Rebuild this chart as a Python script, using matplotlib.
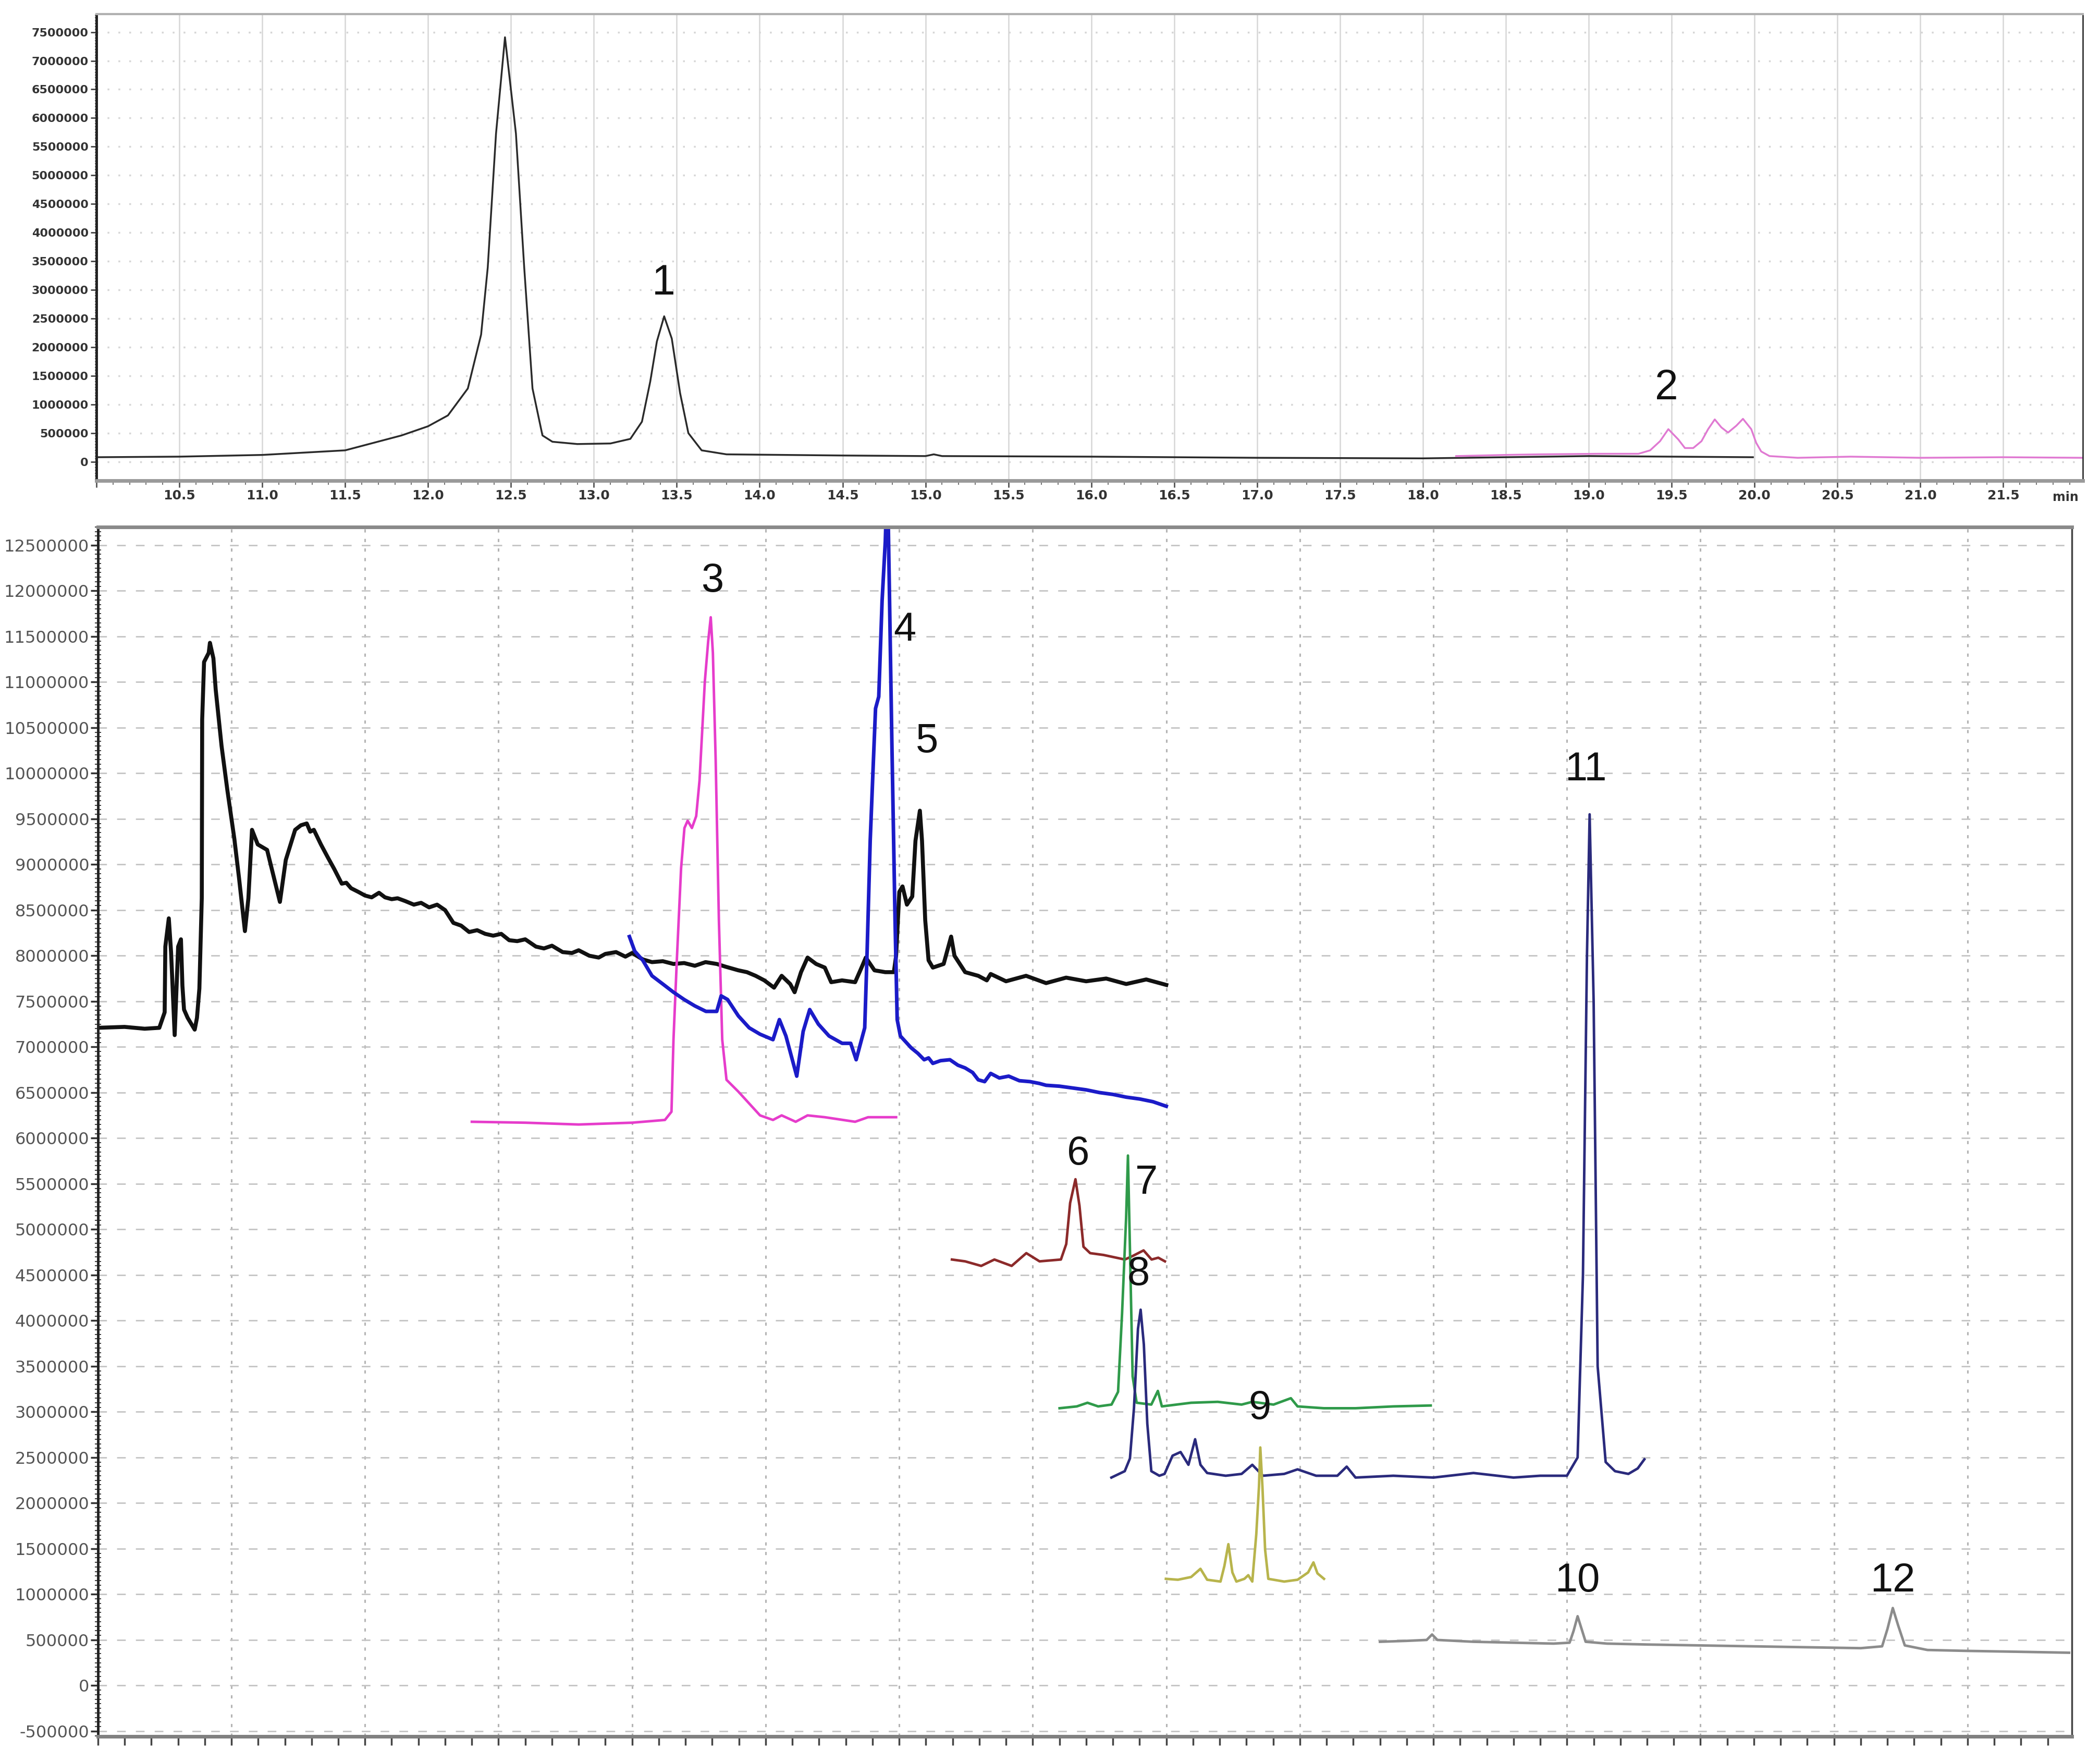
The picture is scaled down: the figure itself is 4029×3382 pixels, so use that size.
import matplotlib
matplotlib.use("Agg")
import matplotlib.pyplot as plt
from matplotlib.ticker import MultipleLocator, FuncFormatter, NullFormatter

plt.rcParams['axes.unicode_minus'] = False

# ---- top chromatogram (time in min, intensity in millions of counts) ----
top_black_t = [10.0, 10.5, 11.0, 11.5, 11.84, 12.0, 12.12, 12.24, 12.32, 12.36, 12.41, 12.464,
               12.53, 12.58, 12.63, 12.69, 12.75, 12.9, 13.1, 13.22, 13.29, 13.34, 13.38, 13.424,
               13.47, 13.52, 13.57, 13.65, 13.8, 14.5, 15.0, 15.05, 15.1, 16.0, 17.0, 18.0, 18.5,
               19.0, 19.5, 19.99]
top_black_i = [0.08, 0.09, 0.12, 0.20, 0.46, 0.62, 0.81, 1.28, 2.22, 3.39, 5.73, 7.41,
               5.73, 3.39, 1.28, 0.46, 0.35, 0.31, 0.32, 0.40, 0.70, 1.40, 2.10, 2.54,
               2.15, 1.20, 0.50, 0.20, 0.13, 0.11, 0.10, 0.13, 0.10, 0.09, 0.07, 0.06, 0.08,
               0.10, 0.09, 0.08]

top_pink_t = [18.2, 18.5, 18.7, 19.06, 19.3, 19.37, 19.43, 19.48, 19.54, 19.58, 19.63, 19.68,
              19.72, 19.76, 19.8, 19.84, 19.89, 19.93, 19.98, 20.01, 20.04, 20.09, 20.26, 20.58,
              21.0, 21.5, 21.98]
top_pink_i = [0.10, 0.12, 0.13, 0.14, 0.14, 0.20, 0.36, 0.57, 0.39, 0.24, 0.24, 0.36,
              0.57, 0.74, 0.60, 0.51, 0.63, 0.75, 0.57, 0.33, 0.18, 0.10, 0.07, 0.09,
              0.07, 0.08, 0.07]

top_peak_ids = ["1", "2"]
top_peak_t = [13.42, 19.47]
top_peak_i = [3.11, 1.28]

# ---- bottom chromatograms (time in grid units, intensity in millions) ----
black_t = [0.0, 0.2, 0.35, 0.46, 0.5, 0.505, 0.531, 0.548, 0.575, 0.601, 0.622, 0.633, 0.645,
           0.672, 0.725, 0.742, 0.76, 0.778, 0.781, 0.795, 0.83, 0.839, 0.865, 0.882, 0.926,
           0.97, 1.022, 1.057, 1.101, 1.127, 1.154, 1.197, 1.267, 1.363, 1.407, 1.477, 1.52,
           1.564, 1.59, 1.617, 1.67, 1.721, 1.77, 1.826, 1.86, 1.896, 1.95, 2.0, 2.05, 2.105,
           2.15, 2.2, 2.244, 2.3, 2.366, 2.42, 2.48, 2.54, 2.6, 2.662, 2.72, 2.78, 2.84, 2.9,
           2.96, 3.02, 3.08, 3.14, 3.2, 3.28, 3.34, 3.4, 3.48, 3.55, 3.6, 3.68, 3.75, 3.8,
           3.88, 3.95, 4.0, 4.08, 4.149, 4.23, 4.31, 4.39, 4.47, 4.55, 4.634, 4.7, 4.796,
           4.86, 4.925, 4.99, 5.063, 5.12, 5.184, 5.217, 5.265, 5.314, 5.378, 5.443, 5.491,
           5.572, 5.67, 5.718, 5.75, 5.815, 5.896, 5.96, 5.977, 6.001, 6.025, 6.058, 6.098,
           6.122, 6.155, 6.171, 6.195, 6.22, 6.252, 6.333, 6.389, 6.414, 6.494, 6.592, 6.656,
           6.685, 6.8, 6.95, 7.1, 7.25, 7.4, 7.55, 7.7, 7.85, 8.0]
black_i = [7.21, 7.22, 7.20, 7.21, 7.38, 8.10, 8.41, 8.04, 7.13, 8.10, 8.18, 7.67, 7.41,
           7.32, 7.19, 7.32, 7.64, 8.63, 10.59, 11.22, 11.32, 11.43, 11.26, 10.92, 10.30,
           9.81, 9.28, 8.85, 8.27, 8.63, 9.38, 9.22, 9.16, 8.59, 9.05, 9.38, 9.43,
           9.45, 9.36, 9.38, 9.22, 9.08, 8.95, 8.79, 8.80, 8.74, 8.70, 8.66, 8.64, 8.69,
           8.64, 8.62, 8.63, 8.60, 8.56, 8.58, 8.53, 8.56, 8.50, 8.36, 8.33, 8.26, 8.28, 8.24,
           8.22, 8.24, 8.17, 8.16, 8.18, 8.10, 8.08, 8.11, 8.04, 8.03, 8.06, 8.00, 7.98, 8.02,
           8.04, 7.99, 8.03, 7.96, 7.93, 7.94, 7.91, 7.92, 7.89, 7.93, 7.91, 7.88, 7.84,
           7.82, 7.78, 7.73, 7.65, 7.78, 7.69, 7.60, 7.82, 7.98, 7.91, 7.87, 7.71,
           7.73, 7.71, 7.87, 7.98, 7.84, 7.82, 7.82, 8.00, 8.70, 8.76, 8.56, 8.65,
           9.26, 9.59, 9.26, 8.39, 7.95, 7.87, 7.91, 8.21, 8.00, 7.82, 7.78, 7.73,
           7.80, 7.72, 7.78, 7.70, 7.76, 7.72, 7.75, 7.69, 7.74, 7.68]

magenta_t = [2.8, 3.2, 3.6, 4.0, 4.246, 4.295, 4.31, 4.335, 4.367, 4.392, 4.416, 4.448, 4.48,
             4.505, 4.545, 4.57, 4.589, 4.605, 4.626, 4.65, 4.675, 4.707, 4.796, 4.877, 4.958,
             5.055, 5.12, 5.225, 5.314, 5.443, 5.67, 5.767, 5.977]
magenta_i = [6.18, 6.17, 6.15, 6.17, 6.20, 6.29, 7.08, 7.95, 8.96, 9.40, 9.48, 9.40, 9.53,
             9.92, 11.01, 11.45, 11.71, 11.32, 10.14, 8.39, 7.08, 6.64, 6.51, 6.38, 6.25,
             6.20, 6.25, 6.18, 6.25, 6.23, 6.18, 6.23, 6.23]

blue_t = [3.98, 4.02, 4.08, 4.149, 4.23, 4.31, 4.39, 4.47, 4.553, 4.634, 4.667, 4.715, 4.796,
          4.877, 4.958, 5.055, 5.103, 5.152, 5.233, 5.281, 5.33, 5.395, 5.475, 5.573, 5.637,
          5.678, 5.718, 5.742, 5.758, 5.783, 5.807, 5.823, 5.847, 5.872, 5.896, 5.912, 5.928,
          5.945, 5.969, 5.985, 6.009, 6.09, 6.14, 6.187, 6.22, 6.252, 6.31, 6.38, 6.44, 6.494,
          6.55, 6.592, 6.64, 6.685, 6.75, 6.82, 6.9, 6.98, 7.05, 7.1, 7.2, 7.3, 7.4, 7.5, 7.6,
          7.7, 7.8, 7.9, 8.0]
blue_i = [8.21, 8.05, 7.95, 7.78, 7.69, 7.60, 7.52, 7.45, 7.39, 7.39, 7.56, 7.52, 7.34,
          7.21, 7.14, 7.08, 7.30, 7.12, 6.68, 7.17, 7.41, 7.25, 7.12, 7.04, 7.04,
          6.86, 7.08, 7.21, 7.95, 9.26, 10.14, 10.71, 10.84, 11.89, 12.54, 13.30, 11.89,
          10.36, 8.39, 7.30, 7.12, 6.99, 6.93, 6.86, 6.88, 6.82, 6.85, 6.86, 6.80, 6.77,
          6.72, 6.64, 6.62, 6.71, 6.66, 6.68, 6.63, 6.62, 6.60, 6.58, 6.57, 6.55, 6.53, 6.50, 6.48,
          6.45, 6.43, 6.40, 6.35]

brown_t = [6.395, 6.494, 6.614, 6.713, 6.842, 6.952, 7.051, 7.211, 7.251, 7.28, 7.32, 7.35,
           7.38, 7.43, 7.53, 7.69, 7.75, 7.83, 7.89, 7.94, 7.99]
brown_i = [4.67, 4.65, 4.60, 4.67, 4.60, 4.74, 4.65, 4.67, 4.84, 5.29, 5.55, 5.26,
           4.81, 4.74, 4.72, 4.67, 4.71, 4.77, 4.67, 4.69, 4.65]

green_t = [7.201, 7.33, 7.41, 7.49, 7.59, 7.639, 7.669, 7.699, 7.713, 7.728, 7.748, 7.778,
           7.888, 7.937, 7.967, 8.186, 8.385, 8.564, 8.644, 8.803, 8.933, 8.983, 9.18, 9.417,
           9.7, 9.98]
green_i = [3.04, 3.06, 3.10, 3.06, 3.08, 3.22, 4.08, 5.12, 5.81, 4.78, 3.39, 3.10,
           3.08, 3.23, 3.06, 3.10, 3.11, 3.08, 3.11, 3.08, 3.15, 3.06, 3.04, 3.04,
           3.06, 3.07]

navy_t = [7.589, 7.689, 7.728, 7.758, 7.788, 7.808, 7.832, 7.858, 7.888, 7.948, 7.987, 8.047,
          8.107, 8.166, 8.216, 8.256, 8.306, 8.445, 8.564, 8.644, 8.724, 8.883, 8.983, 9.122,
          9.281, 9.351, 9.417, 9.7, 10.0, 10.3, 10.6, 10.8, 11.0, 11.08, 11.12, 11.15, 11.17,
          11.2, 11.23, 11.29, 11.36, 11.46, 11.53, 11.58]
navy_i = [2.28, 2.35, 2.49, 3.04, 3.91, 4.12, 3.74, 2.87, 2.35, 2.30, 2.32, 2.52,
          2.56, 2.42, 2.70, 2.42, 2.33, 2.30, 2.32, 2.42, 2.30, 2.32, 2.37, 2.30,
          2.30, 2.40, 2.28, 2.30, 2.28, 2.33, 2.28, 2.30, 2.30, 2.50, 4.50, 8.00, 9.55,
          7.50, 3.50, 2.45, 2.35, 2.32, 2.38, 2.48]

olive_t = [7.997, 8.087, 8.186, 8.256, 8.306, 8.406, 8.435, 8.465, 8.495, 8.525, 8.585, 8.614,
           8.644, 8.674, 8.694, 8.704, 8.72, 8.74, 8.764, 8.883, 8.983, 9.062, 9.102, 9.132,
           9.181]
olive_i = [1.17, 1.16, 1.19, 1.28, 1.16, 1.14, 1.31, 1.55, 1.24, 1.14, 1.17, 1.21,
           1.14, 1.66, 2.18, 2.61, 2.18, 1.49, 1.17, 1.14, 1.16, 1.24, 1.35, 1.23,
           1.17]

gray_t = [9.6, 9.8, 9.95, 9.99, 10.03, 10.3, 10.6, 10.9, 11.02, 11.05, 11.08, 11.11, 11.14,
          11.3, 11.6, 12.0, 12.4, 12.8, 13.2, 13.36, 13.4, 13.44, 13.48, 13.53, 13.7, 14.0,
          14.4, 14.76]
gray_i = [0.48, 0.49, 0.50, 0.56, 0.50, 0.48, 0.47, 0.46, 0.47, 0.60, 0.76, 0.62, 0.48,
          0.46, 0.45, 0.44, 0.43, 0.42, 0.41, 0.43, 0.62, 0.85, 0.66, 0.44, 0.39, 0.38,
          0.37, 0.36]

peak_ids = ["3", "4", "5", "6", "7", "8", "9", "10", "11", "12"]
peak_t = [4.60, 6.04, 6.21, 7.34, 7.85, 7.79, 8.70, 11.08, 11.14, 13.44]
peak_i = [12.11, 11.57, 10.35, 5.83, 5.51, 4.51, 3.04, 1.15, 10.04, 1.15]

M = 1e6
label_font = ['Liberation Sans Narrow', 'Liberation Sans', 'DejaVu Sans']


def plot_trace(ax, t, i, **kwargs):
    ax.plot(t, [v * M for v in i], **kwargs)


fig = plt.figure(figsize=(40.3, 33.82), dpi=100)

# ---------------- top panel ----------------
ax = fig.add_axes([0.0459, 0.7274, 0.9457, 0.2646])
plot_trace(ax, top_black_t, top_black_i, color='#2a2a2a', lw=2.5)
plot_trace(ax, top_pink_t, top_pink_i, color='#e07ad2', lw=2.5)
for pid, t, i in zip(top_peak_ids, top_peak_t, top_peak_i):
    ax.text(t, i * M, pid, ha='center', va='center', fontsize=58, color='#111111',
            family=label_font)

ax.set_xlim(10.0, 21.98)
ax.set_ylim(-328000, 7814000)
ax.xaxis.set_major_locator(MultipleLocator(0.5))
ax.xaxis.set_minor_locator(MultipleLocator(0.1))
ax.yaxis.set_major_locator(MultipleLocator(500000))
ax.yaxis.set_minor_locator(MultipleLocator(50000))
ax.xaxis.set_major_formatter(FuncFormatter(lambda v, p: "" if v < 10.25 else "%.1f" % v))
ax.yaxis.set_major_formatter(FuncFormatter(lambda v, p: "%d" % round(v)))
ax.tick_params(axis='x', which='major', length=9, width=2, colors='#555555', labelsize=18,
               labelcolor='#333333', pad=3)
ax.tick_params(axis='x', which='minor', length=6, width=1.5, colors='#777777')
ax.tick_params(axis='y', which='major', length=8, width=2, colors='#444444', labelsize=16,
               labelcolor='#333333', pad=3)
ax.tick_params(axis='y', which='minor', length=5, width=1.2, colors='#555555', direction='inout')
for lbl in ax.get_xticklabels() + ax.get_yticklabels():
    lbl.set_fontweight('bold')
ax.grid(axis='x', which='major', color='#d6d6d6', lw=1.8, ls='-')
ax.grid(axis='y', which='major', color='#d6d6d6', lw=2.5, ls=(0, (1, 5)))
ax.set_axisbelow(True)
ax.text(21.875, -0.022, "min", transform=ax.get_xaxis_transform(), ha='center', va='top',
        fontsize=17, fontweight='bold', color='#333333')
ax.spines['left'].set_color('#222222')
ax.spines['left'].set_linewidth(3.5)
ax.spines['bottom'].set_color('#9a9a9a')
ax.spines['bottom'].set_linewidth(5)
ax.spines['top'].set_color('#b0b0b0')
ax.spines['top'].set_linewidth(3)
ax.spines['right'].set_color('#333333')
ax.spines['right'].set_linewidth(2)

# ---------------- bottom panel ----------------
ax = fig.add_axes([0.0466, 0.0151, 0.9397, 0.686])
plot_trace(ax, black_t, black_i, color='#111111', lw=5.5)
plot_trace(ax, magenta_t, magenta_i, color='#e63ccb', lw=3.5)
plot_trace(ax, blue_t, blue_i, color='#1b1bc8', lw=5)
plot_trace(ax, brown_t, brown_i, color='#8c2a2a', lw=3.5)
plot_trace(ax, green_t, green_i, color='#2f9a4a', lw=3.5)
plot_trace(ax, navy_t, navy_i, color='#2a2a7c', lw=3.5)
plot_trace(ax, olive_t, olive_i, color='#b8b44c', lw=3.5)
plot_trace(ax, gray_t, gray_i, color='#8c8c8c', lw=3.5)
for pid, t, i in zip(peak_ids, peak_t, peak_i):
    ax.text(t, i * M, pid, ha='center', va='center', fontsize=56, color='#111111',
            family=label_font)

ax.set_xlim(0, 14.78)
ax.set_ylim(-557000, 12700000)
ax.xaxis.set_major_locator(MultipleLocator(1))
ax.xaxis.set_minor_locator(MultipleLocator(0.2))
ax.xaxis.set_major_formatter(NullFormatter())
ax.yaxis.set_major_locator(MultipleLocator(500000))
ax.yaxis.set_minor_locator(MultipleLocator(50000))
ax.yaxis.set_major_formatter(FuncFormatter(lambda v, p: "%d" % round(v)))
ax.tick_params(axis='x', which='both', length=12, width=2.5, colors='#444444')
ax.tick_params(axis='y', which='major', length=10, width=2.5, colors='#333333', labelsize=23,
               labelcolor='#555555', pad=2)
ax.tick_params(axis='y', which='minor', length=8, width=1.5, colors='#444444', direction='inout')
ax.grid(axis='y', which='major', color='#c4c4c4', lw=2, ls=(0, (6, 7)))
ax.grid(axis='x', which='major', color='#b4b4b4', lw=2.2, ls=(0, (2, 4)))
ax.set_axisbelow(True)
ax.spines['left'].set_color('#222222')
ax.spines['left'].set_linewidth(3.5)
ax.spines['bottom'].set_color('#808080')
ax.spines['bottom'].set_linewidth(5)
ax.spines['top'].set_color('#8a8a8a')
ax.spines['top'].set_linewidth(5)
ax.spines['right'].set_color('#444444')
ax.spines['right'].set_linewidth(2.5)

fig.savefig("out.png", dpi=100, facecolor='white')
